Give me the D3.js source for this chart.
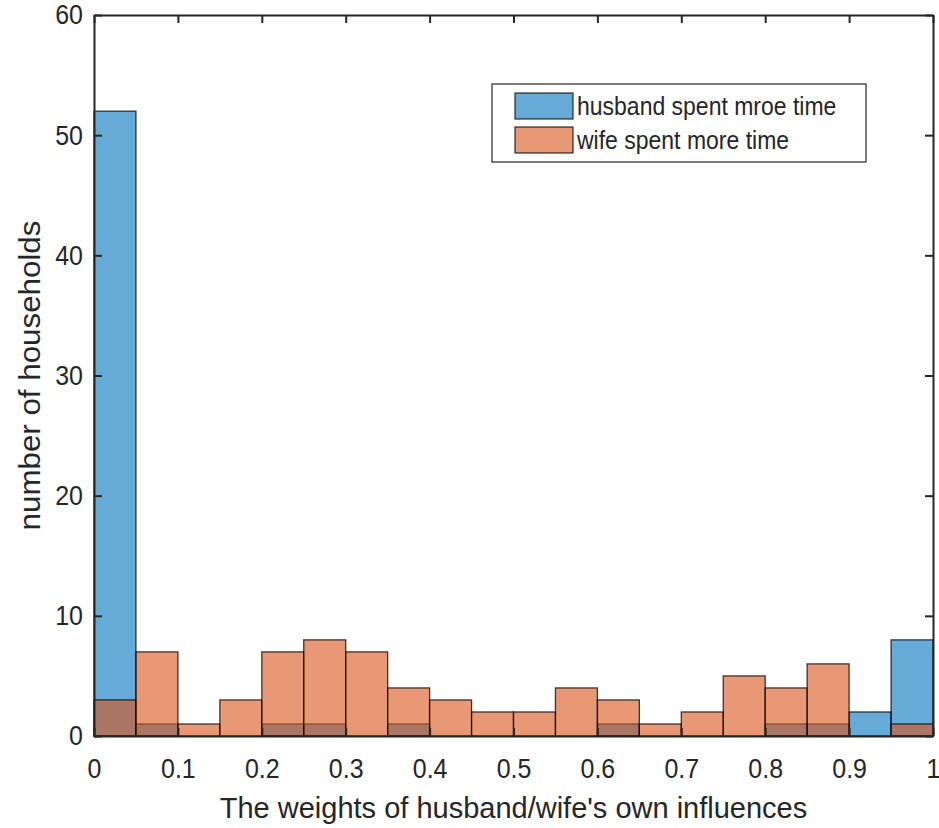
<!DOCTYPE html>
<html>
<head>
<meta charset="utf-8">
<script src="https://cdn.jsdelivr.net/npm/d3@7"></script>
<style>
  body { margin: 0; background: #fff; }
  text { font-family: "Liberation Sans", Arial, sans-serif; fill: #262626; }
</style>
</head>
<body>
<svg width="939" height="828"></svg>
<script>
const binStarts = [0, 0.05, 0.1, 0.15, 0.2, 0.25, 0.3, 0.35, 0.4, 0.45,
                   0.5, 0.55, 0.6, 0.65, 0.7, 0.75, 0.8, 0.85, 0.9, 0.95];
const binWidth = 0.05;
const husband = [52, 1, 0, 0, 1, 1, 0, 1, 0, 0, 0, 0, 1, 0, 0, 0, 1, 1, 2, 8];
const wife    = [3, 7, 1, 3, 7, 8, 7, 4, 3, 2, 2, 4, 3, 1, 2, 5, 4, 6, 0, 1];
const xTicks = [0, 0.1, 0.2, 0.3, 0.4, 0.5, 0.6, 0.7, 0.8, 0.9, 1];
const yTicks = [0, 10, 20, 30, 40, 50, 60];
const seriesNames = ["husband spent mroe time", "wife spent more time"];
const colors = ["#0072BD", "#D95319"];

const svg = d3.select("svg");
const plotLeft = 94, plotRight = 933, plotTop = 15, plotBottom = 736;
const stretch = 1.12; // text in the original is a little taller than wide

const x = d3.scaleLinear().domain([0, 1]).range([plotLeft, plotRight]);
const y = d3.scaleLinear().domain([0, 60]).range([plotBottom, plotTop]);

// bars: husband first, wife drawn over it
[husband, wife].forEach((vals, i) => {
  svg.append("g")
    .selectAll("rect")
    .data(binStarts.map((b, j) => ({ b, v: vals[j] })).filter(d => d.v > 0))
    .enter()
    .append("rect")
    .attr("x", d => x(d.b))
    .attr("y", d => y(d.v))
    .attr("width", d => x(d.b + binWidth) - x(d.b))
    .attr("height", d => y(0) - y(d.v))
    .attr("fill", colors[i])
    .attr("fill-opacity", 0.6)
    .attr("stroke", "#000")
    .attr("stroke-opacity", 0.75)
    .attr("stroke-width", 1.3);
});

// axes, MATLAB style: ticks inward, box all round
const tick = 8;
const xAxis = svg.append("g")
  .attr("transform", `translate(0,${plotBottom})`)
  .call(d3.axisBottom(x).tickValues(xTicks).tickFormat(d3.format("")).tickSizeInner(-tick).tickSizeOuter(0).tickPadding(20));
const xTop = svg.append("g")
  .attr("transform", `translate(0,${plotTop})`)
  .call(d3.axisTop(x).tickValues(xTicks).tickFormat("").tickSizeInner(-tick).tickSizeOuter(0));
const yAxis = svg.append("g")
  .attr("transform", `translate(${plotLeft},0)`)
  .call(d3.axisLeft(y).tickValues(yTicks).tickSizeInner(-tick).tickSizeOuter(0).tickPadding(11));
const yRight = svg.append("g")
  .attr("transform", `translate(${plotRight},0)`)
  .call(d3.axisRight(y).tickValues(yTicks).tickFormat("").tickSizeInner(-tick).tickSizeOuter(0));

[xAxis, xTop, yAxis, yRight].forEach(g => {
  g.select(".domain").attr("stroke", "#262626").attr("stroke-width", 2);
  g.selectAll(".tick line").attr("stroke", "#262626").attr("stroke-width", 2);
  g.selectAll(".tick text")
    .style("font-family", '"Liberation Sans", Arial, sans-serif')
    .style("font-size", "25px")
    .attr("transform", `scale(1,${stretch})`)
    .attr("fill", "#262626");
});

// axis labels
svg.append("text")
  .attr("x", (plotLeft + plotRight) / 2)
  .attr("y", 818)
  .attr("text-anchor", "middle")
  .style("font-size", "29px")
  .text("The weights of husband/wife's own influences");

svg.append("text")
  .attr("transform", `translate(40,${(plotTop + plotBottom) / 2}) rotate(-90) scale(1.08,1)`)
  .attr("text-anchor", "middle")
  .style("font-size", "29px")
  .text("number of households");

// legend
const legend = svg.append("g");
legend.append("rect")
  .attr("x", 492).attr("y", 84)
  .attr("width", 374).attr("height", 78)
  .attr("fill", "#fff")
  .attr("stroke", "#262626")
  .attr("stroke-width", 1.2);

seriesNames.forEach((name, i) => {
  const row = legend.append("g").attr("transform", `translate(0,${i * 34})`);
  row.append("rect")
    .attr("x", 515).attr("y", 93)
    .attr("width", 58).attr("height", 26)
    .attr("fill", colors[i])
    .attr("fill-opacity", 0.6)
    .attr("stroke", "#000")
    .attr("stroke-opacity", 0.75)
    .attr("stroke-width", 1.3);
  row.append("text")
    .attr("transform", `translate(577,115) scale(1,${stretch})`)
    .style("font-size", "23px")
    .text(name);
});
</script>
</body>
</html>
